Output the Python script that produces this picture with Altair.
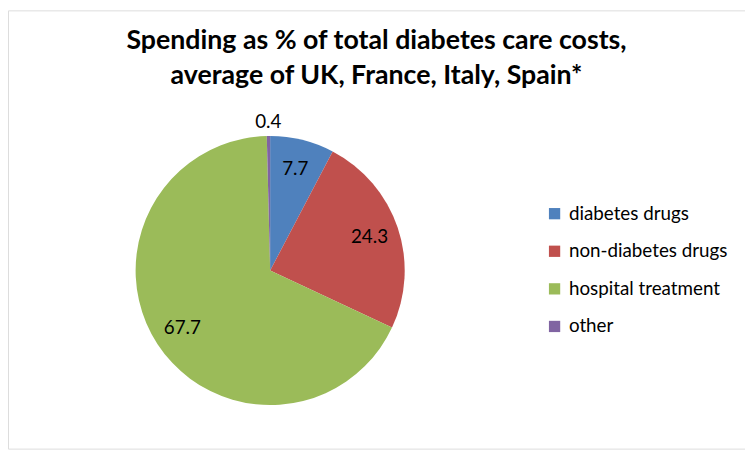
import altair as alt
import pandas as pd

categories = ["diabetes drugs", "non-diabetes drugs", "hospital treatment", "other"]
values = [7.7, 24.3, 67.7, 0.4]
labels = ["7.7", "24.3", "67.7", "0.4"]
colors = ["#4F81BD", "#C0504D", "#9BBB59", "#8064A2"]
title_lines = ["Spending as % of total diabetes care costs,", "average of UK, France, Italy, Spain*"]

df = pd.DataFrame({"category": categories, "value": values, "label": labels,
                   "idx": list(range(len(categories)))})
total = float(sum(values))

W, H = 745, 443
CX, CY, R = 265, 263, 136
theta_scale = alt.Scale(domain=[0, total])

pie = alt.Chart(df).mark_arc(outerRadius=R).encode(
    theta=alt.Theta("value:Q", stack=True, scale=theta_scale),
    order=alt.Order("idx:Q"),
    x=alt.value(CX), y=alt.value(CY),
    color=alt.Color("category:N",
                    scale=alt.Scale(domain=categories, range=colors),
                    sort=categories,
                    legend=alt.Legend(title=None, orient="none", legendX=543, legendY=196,
                                      symbolType="square", symbolSize=130, symbolStrokeWidth=0,
                                      labelFontSize=19, labelFont="Lato", labelColor="#000000",
                                      labelLimit=400,
                                      rowPadding=18, symbolOffset=0, labelOffset=5))
)

lab_base = alt.Chart(df).transform_window(
    cum="sum(value)", sort=[alt.SortField("idx")], frame=[None, 0]
).transform_calculate(
    mid="datum.cum - datum.value / 2"
).encode(
    theta=alt.Theta("mid:Q", stack=None, scale=theta_scale),
    x=alt.value(CX), y=alt.value(CY),
    text="label:N",
)

def lab_layer(cats, r):
    return lab_base.transform_filter(
        alt.FieldOneOfPredicate(field="category", oneOf=cats)
    ).mark_text(radius=r, font="Lato", fontSize=19, color="#000000")

labels_inner = lab_layer(["diabetes drugs", "non-diabetes drugs", "hospital treatment"], 106)
labels_other = lab_layer(["other"], 150)

chart = alt.layer(pie, labels_inner, labels_other).properties(
    width=W, height=H,
    autosize=alt.AutoSizeParams(type="none"),
    padding=0,
    title=alt.TitleParams(text=title_lines, font="Lato", fontSize=27, fontWeight="bold",
                          color="#000000", anchor="middle", offset=-80, lineHeight=35),
).configure_view(stroke="#7F7F7F", strokeWidth=4).configure(background="white")

chart.save("out.html", embed_options={"renderer": "svg", "actions": False})
